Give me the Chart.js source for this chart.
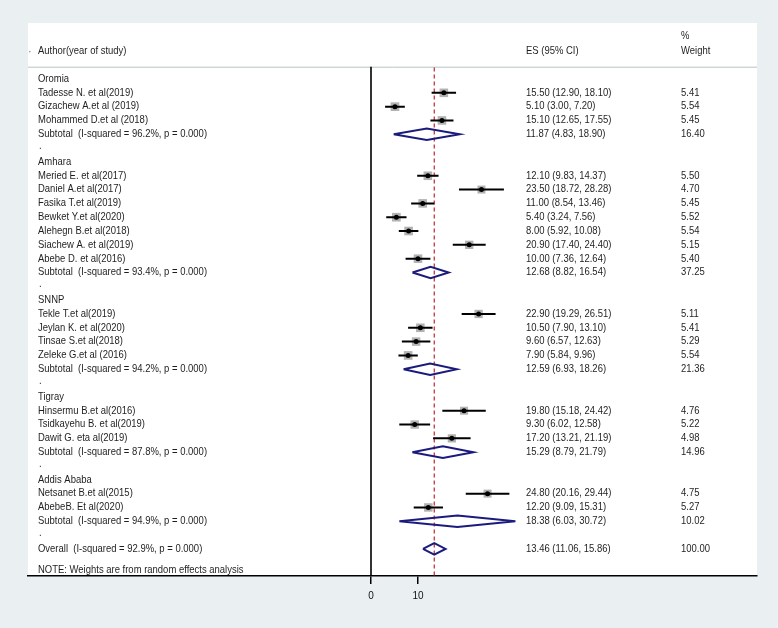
<!DOCTYPE html>
<html>
<head>
<meta charset="utf-8">
<script src="https://cdn.jsdelivr.net/npm/chart.js@4"></script>
<style>
html,body{margin:0;padding:0;background:#eaeff1;}
#wrap{width:778px;height:628px;position:relative;}
</style>
</head>
<body>
<div id="wrap"><canvas id="c" width="778" height="628"></canvas></div>
<script>
// ---------------- DATA ----------------
const groups = ['Oromia', 'Amhara', 'SNNP', 'Tigray', 'Addis Ababa'];

const studyNames = [
  'Tadesse N. et al(2019)', 'Gizachew A.et al (2019)', 'Mohammed D.et al (2018)',
  'Meried E. et al(2017)', 'Daniel A.et al(2017)', 'Fasika T.et al(2019)', 'Bewket Y.et al(2020)',
  'Alehegn B.et al(2018)', 'Siachew A. et al(2019)', 'Abebe D. et al(2016)',
  'Tekle T.et al(2019)', 'Jeylan K. et al(2020)', 'Tinsae S.et al(2018)', 'Zeleke G.et al (2016)',
  'Hinsermu B.et al(2016)', 'Tsidkayehu B. et al(2019)', 'Dawit G. eta al(2019)',
  'Netsanet B.et al(2015)', 'AbebeB. Et al(2020)'
];
const studyGroup = [0,0,0, 1,1,1,1,1,1,1, 2,2,2,2, 3,3,3, 4,4];
const studyES = [15.50, 5.10, 15.10, 12.10, 23.50, 11.00, 5.40, 8.00, 20.90, 10.00, 22.90, 10.50, 9.60, 7.90, 19.80, 9.30, 17.20, 24.80, 12.20];
const studyLo = [12.90, 3.00, 12.65, 9.83, 18.72, 8.54, 3.24, 5.92, 17.40, 7.36, 19.29, 7.90, 6.57, 5.84, 15.18, 6.02, 13.21, 20.16, 9.09];
const studyHi = [18.10, 7.20, 17.55, 14.37, 28.28, 13.46, 7.56, 10.08, 24.40, 12.64, 26.51, 13.10, 12.63, 9.96, 24.42, 12.58, 21.19, 29.44, 15.31];
const studyWeight = [5.41, 5.54, 5.45, 5.50, 4.70, 5.45, 5.52, 5.54, 5.15, 5.40, 5.11, 5.41, 5.29, 5.54, 4.76, 5.22, 4.98, 4.75, 5.27];

const subES = [11.87, 12.68, 12.59, 15.29, 18.38];
const subLo = [4.83, 8.82, 6.93, 8.79, 6.03];
const subHi = [18.90, 16.54, 18.26, 21.79, 30.72];
const subWeight = [16.40, 37.25, 21.36, 14.96, 10.02];
const subI2 = ['96.2', '93.4', '94.2', '87.8', '94.9'];
const subP = ['0.000', '0.000', '0.000', '0.000', '0.000'];

const overallES = 13.46, overallLo = 11.06, overallHi = 15.86, overallWeight = 100.00;
const overallI2 = '92.9', overallP = '0.000';

const xTicks = [0, 10];

// ---------------- ROW LAYOUT ----------------
const rows = [];
groups.forEach((g, gi) => {
  rows.push({type: 'group', text: g});
  studyGroup.forEach((sg, si) => { if (sg === gi) rows.push({type: 'study', idx: si}); });
  rows.push({type: 'sub', idx: gi});
  rows.push({type: 'dot'});
});
rows.push({type: 'overall'});
const noteRow = rows.length + 0.53;

const fmt = v => v.toFixed(2);
const ciText = (e, l, h) => fmt(e) + ' (' + fmt(l) + ', ' + fmt(h) + ')';

const ciData = [], sqData = [], dotData = [], diaData = [];
const DH = 0.42;
function addDiamond(e, l, h, y) {
  diaData.push({x: l, y: y}, {x: e, y: y - DH}, {x: h, y: y}, {x: e, y: y + DH}, {x: l, y: y}, {x: null, y: null});
}
rows.forEach((r, ri) => {
  if (r.type === 'study') {
    const i = r.idx;
    ciData.push({x: studyLo[i], y: ri}, {x: studyHi[i], y: ri}, {x: null, y: null});
    sqData.push({x: studyES[i], y: ri, w: studyWeight[i]});
    dotData.push({x: studyES[i], y: ri});
  } else if (r.type === 'sub') {
    addDiamond(subES[r.idx], subLo[r.idx], subHi[r.idx], ri);
  } else if (r.type === 'overall') {
    addDiamond(overallES, overallLo, overallHi, ri);
  }
});

const HEADER_LINE_ROW = -0.89;
const Y_MIN = -4.052, Y_MAX = 35.96;
const SX = 0.92;

const textPlugin = {
  id: 'forestText',
  beforeDraw(chart) {
    const {ctx, chartArea: a} = chart;
    ctx.save();
    ctx.fillStyle = '#ffffff';
    ctx.fillRect(a.left, a.top, a.right - a.left, a.bottom - a.top);
    const ys = chart.scales.y;
    const yl = ys.getPixelForValue(HEADER_LINE_ROW);
    ctx.strokeStyle = '#b9c2c6';
    ctx.lineWidth = 1;
    ctx.beginPath();
    ctx.moveTo(a.left, yl + 0.5); ctx.lineTo(a.right, yl + 0.5);
    ctx.stroke();
    ctx.restore();
  },
  afterDraw(chart) {
    const {ctx} = chart;
    const ys = chart.scales.y;
    ctx.save();
    ctx.fillStyle = '#9aa3a6';
    ctx.fillRect(29, ys.getPixelForValue(-2) - 0.5, 1.5, 1.5);
    ctx.scale(SX, 1);
    ctx.font = '10.3px "Liberation Sans", Arial, sans-serif';
    ctx.fillStyle = '#1e1e1e';
    ctx.textBaseline = 'middle';
    ctx.textAlign = 'left';
    const X_LABEL = 38, X_ES = 526, X_W = 681;
    const yp = v => ys.getPixelForValue(v);
    const t = (s, x, y) => ctx.fillText(s, x / SX, y);
    t('Author(year of study)', X_LABEL, yp(-2));
    t('ES (95% CI)', X_ES, yp(-2));
    t('%', X_W, yp(-3.13));
    t('Weight', X_W, yp(-2));
    rows.forEach((r, ri) => {
      const y = yp(ri);
      if (r.type === 'group') {
        t(r.text, X_LABEL, y);
      } else if (r.type === 'study') {
        const i = r.idx;
        t(studyNames[i], X_LABEL, y);
        t(ciText(studyES[i], studyLo[i], studyHi[i]), X_ES, y);
        t(fmt(studyWeight[i]), X_W, y);
      } else if (r.type === 'sub') {
        const i = r.idx;
        t('Subtotal  (I-squared = ' + subI2[i] + '%, p = ' + subP[i] + ')', X_LABEL, y);
        t(ciText(subES[i], subLo[i], subHi[i]), X_ES, y);
        t(fmt(subWeight[i]), X_W, y);
      } else if (r.type === 'dot') {
        t('.', X_LABEL + 1, y - 2);
      } else if (r.type === 'overall') {
        t('Overall  (I-squared = ' + overallI2 + '%, p = ' + overallP + ')', X_LABEL, y);
        t(ciText(overallES, overallLo, overallHi), X_ES, y);
        t(fmt(overallWeight), X_W, y);
      }
    });
    t('NOTE: Weights are from random effects analysis', X_LABEL, yp(noteRow));
    ctx.restore();
  }
};

new Chart(document.getElementById('c'), {
  type: 'scatter',
  data: {
    datasets: [
      {
        type: 'line', data: [{x: 0, y: HEADER_LINE_ROW}, {x: 0, y: Y_MAX}],
        borderColor: '#000000', borderWidth: 1.6, pointRadius: 0, order: 6
      },
      {
        type: 'line', data: [{x: overallES, y: HEADER_LINE_ROW + 0.05}, {x: overallES, y: Y_MAX}],
        borderColor: '#c0262c', borderWidth: 1.2, borderDash: [4, 3], pointRadius: 0, order: 5
      },
      {
        data: sqData, pointStyle: 'rect',
        pointRadius: ctx => { const w = ctx.raw ? ctx.raw.w : 5; return 6.1 * Math.sqrt(w / 5.5); },
        backgroundColor: 'rgba(165,165,165,0.85)', borderWidth: 0, order: 4
      },
      {
        type: 'line', data: ciData, spanGaps: false,
        borderColor: '#000000', borderWidth: 2, pointRadius: 0, order: 3
      },
      {
        data: dotData, pointStyle: 'circle', pointRadius: 2.5,
        backgroundColor: '#000000', borderWidth: 0, order: 2
      },
      {
        type: 'line', data: diaData, spanGaps: false,
        borderColor: '#1b1b7e', borderWidth: 2, pointRadius: 0, fill: false, order: 1,
        borderJoinStyle: 'miter'
      }
    ]
  },
  options: {
    responsive: false,
    animation: false,
    events: [],
    layout: {padding: {left: 28, right: 21, top: 23, bottom: 0}},
    plugins: {legend: {display: false}, tooltip: {enabled: false}},
    scales: {
      x: {
        type: 'linear', min: -72.98, max: 82.13,
        afterBuildTicks: s => { s.ticks = xTicks.map(v => ({value: v})); },
        afterFit: s => { s.height = 52; },
        border: {display: true, color: '#000000', width: 1.5},
        grid: {display: true, drawOnChartArea: false, drawTicks: true, tickLength: 8, color: '#000000', lineWidth: 1.5},
        ticks: {color: '#111111', font: {family: '"Liberation Sans", Arial, sans-serif', size: 10}, padding: 6, maxRotation: 0, autoSkip: false}
      },
      y: {
        type: 'linear', min: Y_MIN, max: Y_MAX, reverse: true, display: false
      }
    }
  },
  plugins: [textPlugin]
});
</script>
</body>
</html>
